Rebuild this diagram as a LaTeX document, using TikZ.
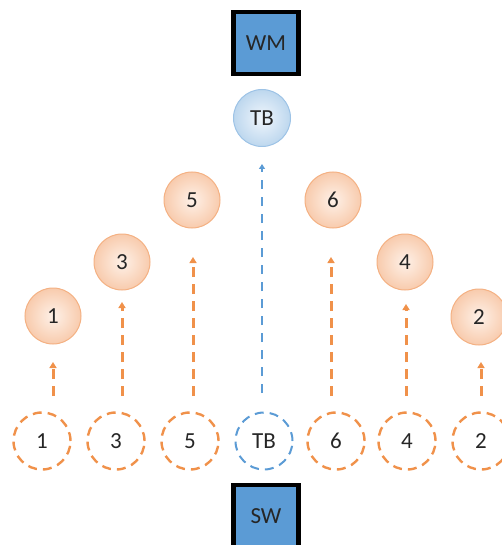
\documentclass[tikz,border=0pt]{standalone}
\usepackage{fontspec}
\setmainfont{Carlito}
\usetikzlibrary{arrows.meta}
\definecolor{orfill}{HTML}{F8CBAD}
\definecolor{orin}{HTML}{FEF1E8}
\definecolor{orline}{HTML}{F4B183}
\definecolor{ordash}{HTML}{F0914A}
\definecolor{blfill}{HTML}{BDD7EE}
\definecolor{blin}{HTML}{F0F6FC}
\definecolor{blline}{HTML}{9DC3E6}
\definecolor{bldash}{HTML}{5B9BD5}
\definecolor{boxfill}{HTML}{5B9BD5}
\tikzset{
  lbl/.style={font=\fontsize{23}{23}\selectfont, text=black!85},
  upper/.style={circle, minimum size=56pt, inner sep=0pt, draw=orline, line width=1pt,
     inner color=orin, outer color=orfill, lbl},
  uppertb/.style={circle, minimum size=57pt, inner sep=0pt, draw=blline, line width=1pt,
     inner color=blin, outer color=blfill, lbl},
  lower/.style={circle, minimum size=57pt, inner sep=0pt, draw=ordash, line width=2.4pt,
     dash pattern=on 9pt off 6pt, lbl},
  lowertb/.style={circle, minimum size=57pt, inner sep=0pt, draw=bldash, line width=2pt,
     dash pattern=on 9pt off 6pt, lbl},
  sbox/.style={rectangle, minimum width=65pt, minimum height=62pt, inner sep=0pt,
     draw=black, line width=4.5pt, fill=boxfill, lbl},
  orarrow/.style={draw=ordash, line width=3pt, dash pattern=on 10pt off 7pt,
     -{Triangle[width=7pt,length=6pt]}},
  blarrow/.style={draw=bldash, line width=2pt, dash pattern=on 9pt off 8pt,
     -{Triangle[width=6pt,length=5pt]}}
}
\begin{document}
\begin{tikzpicture}[x=1pt,y=-1pt]
\useasboundingbox (0,0) rectangle (501,545);
% boxes
\node[sbox] (wm) at (266,43) {WM};
\node[sbox] (sw) at (266,516) {SW};
% upper circles
\node[uppertb] (utb) at (262,118) {TB};
\node[upper] (u5) at (192,200) {5};
\node[upper] (u6) at (333,200) {6};
\node[upper] (u3) at (122,262) {3};
\node[upper] (u4) at (405,262) {4};
\node[upper] (u1) at (53,316) {1};
\node[upper] (u2) at (479,317) {2};
% lower circles
\node[lower] (b1) at (42,441) {1};
\node[lower] (b3) at (116,441) {3};
\node[lower] (b5) at (190,441) {5};
\node[lowertb] (btb) at (264,441) {TB};
\node[lower] (b6) at (336,441) {6};
\node[lower] (b4) at (407,441) {4};
\node[lower] (b2) at (481,441) {2};
% arrow ends
\coordinate (s1) at (53,396);  \coordinate (e1) at (53,362);
\coordinate (s3) at (122,396); \coordinate (e3) at (122,302);
\coordinate (s5) at (193,396); \coordinate (e5) at (193,257);
\coordinate (stb) at (262,393); \coordinate (etb) at (262,164);
\coordinate (s6) at (331,396); \coordinate (e6) at (331,257);
\coordinate (s4) at (406,396); \coordinate (e4) at (406,304);
\coordinate (s2) at (481,396); \coordinate (e2) at (481,362);
\draw[orarrow] (s1) -- (e1);
\draw[orarrow] (s3) -- (e3);
\draw[orarrow] (s5) -- (e5);
\draw[blarrow] (stb) -- (etb);
\draw[orarrow] (s6) -- (e6);
\draw[orarrow] (s4) -- (e4);
\draw[orarrow] (s2) -- (e2);
\end{tikzpicture}
\end{document}
